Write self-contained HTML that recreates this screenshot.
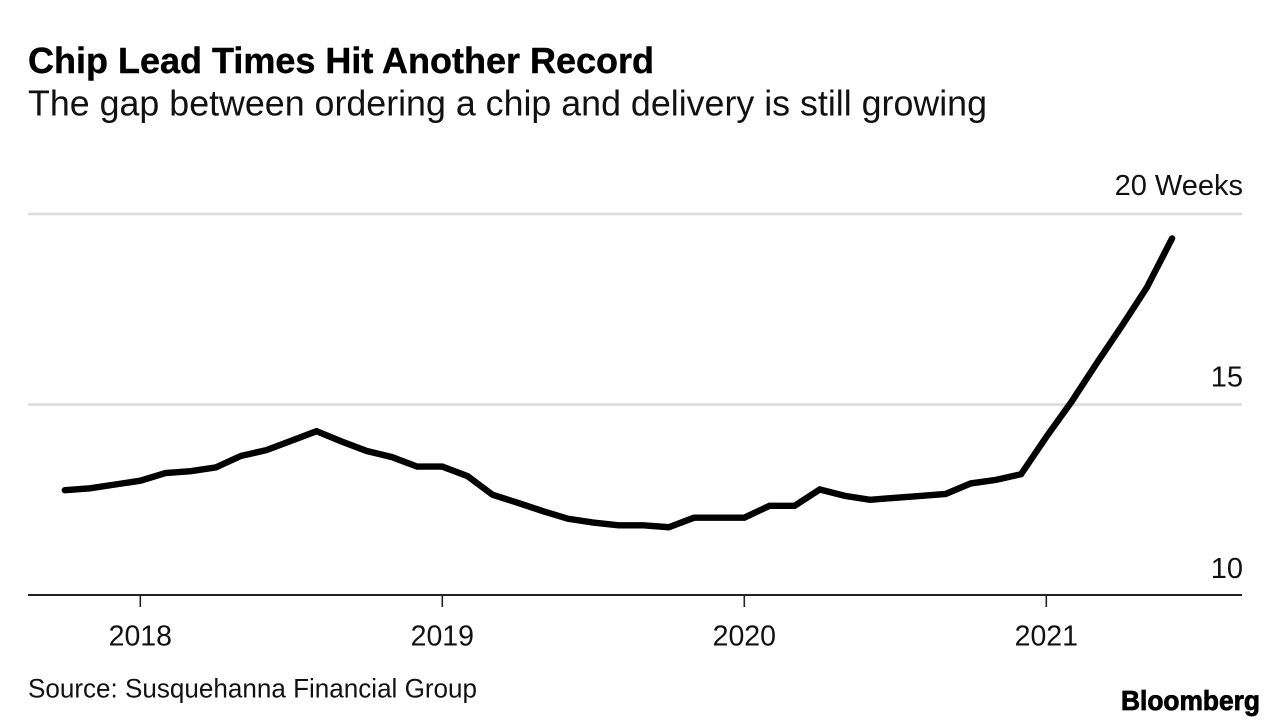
<!DOCTYPE html>
<html lang="en">
<head>
<meta charset="utf-8">
<title>Chip Lead Times Hit Another Record</title>
<style>
html,body{margin:0;padding:0;background:#fff;}
svg{display:block;font-family:"Liberation Sans",Arial,sans-serif;}
</style>
</head>
<body>
<svg id="chart" width="1288" height="728" viewBox="0 0 1288 728" xmlns="http://www.w3.org/2000/svg">
  <rect x="0" y="0" width="1288" height="728" fill="#ffffff"/>
  <text x="28" y="73" font-size="36" font-weight="700" fill="#000" stroke="#000" stroke-width="0.4" textLength="626" lengthAdjust="spacingAndGlyphs">Chip Lead Times Hit Another Record</text>
  <text x="28" y="115.5" font-size="36.5" fill="#111" textLength="959" lengthAdjust="spacingAndGlyphs">The gap between ordering a chip and delivery is still growing</text>
  <g id="grid"></g>
  <g id="yLabels"></g>
  <g id="xAxis"></g>
  <g id="series"></g>
  <text x="28" y="697.5" font-size="27" fill="#111" textLength="449" lengthAdjust="spacingAndGlyphs">Source: Susquehanna Financial Group</text>
  <text x="1121" y="710" font-size="28" font-weight="700" fill="#000" stroke="#000" stroke-width="0.8" textLength="139" lengthAdjust="spacingAndGlyphs">Bloomberg</text>
</svg>
<script>
const months = ["2017-10","2017-11","2017-12","2018-01","2018-02","2018-03","2018-04","2018-05","2018-06","2018-07","2018-08","2018-09","2018-10","2018-11","2018-12","2019-01","2019-02","2019-03","2019-04","2019-05","2019-06","2019-07","2019-08","2019-09","2019-10","2019-11","2019-12","2020-01","2020-02","2020-03","2020-04","2020-05","2020-06","2020-07","2020-08","2020-09","2020-10","2020-11","2020-12","2021-01","2021-02","2021-03","2021-04","2021-05","2021-06"];
const leadTimes = [12.75,12.8,12.9,13.0,13.2,13.25,13.35,13.65,13.8,14.05,14.3,14.03,13.78,13.62,13.37,13.37,13.12,12.63,12.42,12.2,12.0,11.9,11.83,11.83,11.78,12.03,12.03,12.03,12.34,12.34,12.77,12.6,12.5,12.55,12.6,12.65,12.93,13.02,13.17,14.15,15.07,16.08,17.06,18.08,19.36];
const yTicks = [10,15,20];
const yTickLabels = ["10","15","20 Weeks"];
const xTicks = ["2018-01","2019-01","2020-01","2021-01"];
const xTickLabels = ["2018","2019","2020","2021"];

const NS = "http://www.w3.org/2000/svg";
function monthNumber(m){
  const parts = m.split("-");
  return (+parts[0]) * 12 + (+parts[1]) - 1;
}
const baseMonth = monthNumber("2018-01");
function xScale(m){
  return 140.3 + (monthNumber(m) - baseMonth) * (906 / 36);
}
function yScale(v){
  return 595 - (v - 10) * 38.1;
}
function make(tag, attrs, parent){
  const el = document.createElementNS(NS, tag);
  for (const k in attrs) el.setAttribute(k, attrs[k]);
  parent.appendChild(el);
  return el;
}

const grid = document.getElementById("grid");
const yLabels = document.getElementById("yLabels");
yTicks.forEach(function(t, i){
  if (t !== 10) {
    const line = make("line", {x1:28, x2:1242, y1:yScale(t), y2:yScale(t), stroke:"#dcdcdc", "stroke-width":2.6}, grid);
    
    
  }
  const label = make("text", {x:1243, y:yScale(t) - 18 - (t - 15) * 0.2, "font-size":29, fill:"#111", "text-anchor":"end"}, yLabels);
  label.textContent = yTickLabels[i];
  
  
});

const xAxis = document.getElementById("xAxis");
const axisLine = make("line", {x1:28, x2:1242, y1:595, y2:595, stroke:"#222", "stroke-width":2}, xAxis);


xTicks.forEach(function(t, i){
  const x = xScale(t);
  const tick = make("line", {x1:x, x2:x, y1:595, y2:607, stroke:"#222", "stroke-width":1.6}, xAxis);
  
  
  const label = make("text", {x:x, y:645.5, "font-size":28.5, fill:"#111", "text-anchor":"middle"}, xAxis);
  label.textContent = xTickLabels[i];
  
  
});

const seriesGroup = document.getElementById("series");
const d = months.map(function(m, i){
  return (i ? "L" : "M") + xScale(m).toFixed(1) + " " + yScale(leadTimes[i]).toFixed(1);
}).join(" ");
const path = make("path", {d:d, fill:"none", stroke:"#000", "stroke-width":6.4, "stroke-linejoin":"miter", "stroke-linecap":"round"}, seriesGroup);


</script>
</body>
</html>
